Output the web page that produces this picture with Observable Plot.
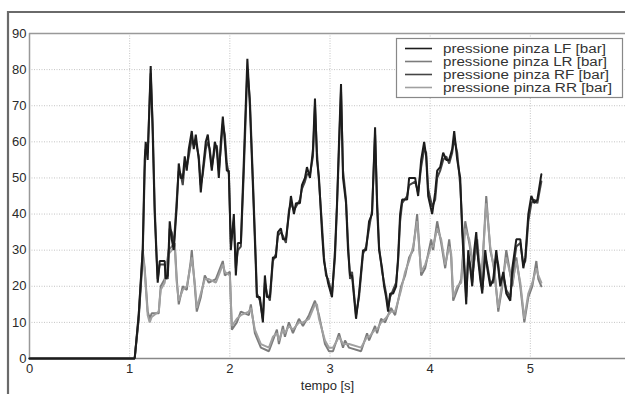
<!DOCTYPE html>
<html><head><meta charset="utf-8">
<script src="https://cdn.jsdelivr.net/npm/d3@7"></script>
<script src="https://cdn.jsdelivr.net/npm/@observablehq/plot@0.6"></script>
<style>html,body{margin:0;padding:0;background:#fff;overflow:hidden}</style>
</head><body><div id="chart"></div>
<script>
const seriesNames = ["pressione pinza LF [bar]", "pressione pinza LR [bar]", "pressione pinza RF [bar]", "pressione pinza RR [bar]"];
const seriesColors = ["#1c1c1c", "#7c7c7c", "#454545", "#a0a0a0"];
const xTicks = [0, 1, 2, 3, 4, 5, 6];
const yTicks = [0, 10, 20, 30, 40, 50, 60, 70, 80, 90];

// front calipers (shared time base)
const tFront = [
  0,1.05,1.09,1.13,1.15,1.16,1.18,1.21,1.23,1.25,
  1.27,1.28,1.30,1.35,1.36,1.38,1.40,1.42,1.44,1.47,
  1.49,1.51,1.53,1.55,1.57,1.59,1.62,1.64,1.66,1.69,
  1.71,1.73,1.76,1.78,1.80,1.82,1.85,1.87,1.89,1.91,
  1.93,1.95,1.97,1.99,2.01,2.04,2.06,2.08,2.11,2.14,
  2.175,2.20,2.23,2.26,2.27,2.30,2.33,2.35,2.37,2.40,
  2.43,2.46,2.48,2.51,2.53,2.56,2.59,2.61,2.64,2.66,
  2.70,2.72,2.75,2.77,2.80,2.83,2.85,2.87,2.89,2.92,
  2.94,2.96,2.98,3.02,3.05,3.07,3.09,3.11,3.13,3.16,
  3.18,3.20,3.22,3.24,3.26,3.29,3.31,3.33,3.36,3.39,
  3.42,3.45,3.47,3.49,3.52,3.54,3.56,3.58,3.60,3.63,
  3.66,3.68,3.70,3.72,3.77,3.79,3.85,3.88,3.91,3.94,
  3.96,3.98,4.02,4.05,4.07,4.10,4.13,4.16,4.19,4.22,
  4.24,4.27,4.30,4.32,4.34,4.36,4.38,4.40,4.42,4.44,
  4.46,4.48,4.50,4.52,4.55,4.57,4.60,4.63,4.66,4.68,
  4.70,4.73,4.76,4.80,4.82,4.86,4.90,4.93,4.95,4.98,
  5.01,5.04,5.07,5.11
];
const pLF = [
  0,0,12,30,55,60,55,81,62,40,
  27,21,27,27,22,23,38,33,30,42,
  54,50,50,56,52,58,63,58,62,55,
  46,52,60,62,57,52,60,58,50,60,
  67,60,52,52,30,40,23,32,32,55,
  83,70,48,25,17,17,10,23,17,17,
  28,28,35,36,33,33,40,45,40,43,
  43,48,50,53,50,58,72,55,50,35,
  27,24,21,17,30,43,60,76,50,43,
  30,23,23,17,11,18,24,30,30,38,
  40,64,42,30,25,20,17,13,18,18,
  20,28,40,44,44,50,50,45,55,60,
  56,45,40,46,52,53,57,55,55,58,
  63,55,50,35,25,15,30,25,20,30,
  35,27,22,18,30,25,20,22,30,25,
  20,24,18,16,25,33,33,25,28,40,
  45,43,44,51
];
const pRF = [
  0,0,11,28,52,58,57,79,65,42,
  28,22,26,26,23,22,36,35,31,44,
  52,51,48,54,53,56,61,59,60,56,
  48,51,58,60,58,53,58,59,52,58,
  65,62,54,51,32,38,25,30,31,52,
  80,72,50,27,18,16,11,21,18,16,
  27,29,34,35,34,32,41,43,41,42,
  44,47,49,51,51,56,70,57,49,37,
  28,23,22,18,28,42,58,74,52,44,
  32,22,24,18,12,17,23,29,31,36,
  41,62,44,31,24,21,18,14,17,19,
  21,27,38,43,45,48,49,46,53,58,
  57,47,42,44,50,52,55,56,54,57,
  61,57,48,37,27,17,28,26,21,28,
  33,28,24,19,28,26,21,21,28,26,
  21,23,19,17,23,31,32,26,27,38,
  43,44,43,49
];

// rear calipers (shared time base)
const tRear = [
  0,1.05,1.09,1.13,1.15,1.18,1.20,1.22,1.29,1.31,
  1.35,1.39,1.45,1.47,1.49,1.53,1.57,1.61,1.62,1.65,
  1.67,1.71,1.75,1.79,1.86,1.93,1.95,2.00,2.02,2.07,
  2.11,2.19,2.21,2.25,2.31,2.39,2.43,2.47,2.49,2.53,
  2.55,2.59,2.63,2.69,2.73,2.79,2.85,2.87,2.89,2.95,
  2.99,3.03,3.09,3.13,3.15,3.19,3.31,3.37,3.39,3.45,
  3.47,3.51,3.55,3.61,3.65,3.71,3.75,3.79,3.83,3.87,
  3.91,3.95,4.01,4.03,4.07,4.11,4.15,4.19,4.21,4.23,
  4.27,4.31,4.35,4.39,4.43,4.47,4.51,4.56,4.60,4.64,
  4.68,4.72,4.76,4.82,4.86,4.90,4.94,4.98,5.02,5.06,
  5.08,5.11
];
const pLR = [
  0,0,12,30,25,13,11,12.5,12.5,20,
  22,30,32,22,15,20,19,27,30,20,
  13,17,23,21,22,27,23,24,8,10,
  13,12,15,7,3,2,5,8,4,9,
  6,10,7,11,9,12,16,14,12,4,
  2,2,7,3,5,3,2,7,5,9,
  7,11,10,14,12,20,23,28,30,40,
  23,25,33,30,38,32,25,33,28,16,
  19,22,38,32,25,33,20,45,30,25,
  13,20,30,20,28,20,10,17,20,27,
  22,20
];
const pRR = [
  0,0,11,29,24,12,10,11.5,13,19,
  21,29,31,21,16,19,20,26,28,21,
  14,18,22,22,21,26,24,23,9,11,
  12,13,14,8,4,3,6,7,5,8,
  7,9,8,10,10,11,15,15,11,5,
  3,3,6,4,4,4,3,6,6,8,
  8,10,11,13,13,19,24,27,31,38,
  24,26,31,31,36,33,26,31,29,17,
  20,21,36,33,26,31,21,43,31,24,
  14,21,28,21,27,21,11,18,21,25,
  23,21
];

function build(name, ts, vs) {
  const n = Math.min(ts.length, vs.length);
  const out = [];
  for (let i = 0; i < n; i++) out.push({s: name, t: ts[i], v: vs[i]});
  return out;
}
const rows = [
  ...build(seriesNames[1], tRear, pLR),
  ...build(seriesNames[3], tRear, pRR),
  ...build(seriesNames[2], tFront, pRF),
  ...build(seriesNames[0], tFront, pLF)
];

const gridStyle = {stroke: "#c4c4c4", strokeOpacity: 1, strokeWidth: 1, strokeDasharray: "1,1.5"};

const plot = Plot.plot({
  width: 625,
  height: 394,
  marginLeft: 29,
  marginTop: 33,
  marginBottom: 36,
  marginRight: 0,
  style: {fontFamily: "'Liberation Sans', Arial, sans-serif", fontSize: "13px", color: "#2a2a2a", background: "#fff", overflow: "hidden"},
  x: {domain: [0, 6], range: [29, 630]},
  y: {domain: [0, 90]},
  color: {domain: seriesNames, range: seriesColors},
  marks: [
    Plot.gridX(xTicks.slice(1), gridStyle),
    Plot.gridY(yTicks.slice(1), gridStyle),
    Plot.ruleY([0], {stroke: "#888", strokeWidth: 1.5}),
    Plot.ruleY([90], {stroke: "#999", strokeWidth: 1.5}),
    Plot.ruleX([0], {stroke: "#999", strokeWidth: 1.5}),
    Plot.line(rows, {x: "t", y: "v", z: "s", stroke: "s", strokeWidth: 2, strokeLinejoin: "miter"}),
    Plot.axisX({ticks: xTicks, tickSize: 0, tickPadding: 5, tickFormat: d => d, label: "tempo [s]", labelAnchor: "center", labelOffset: 31, labelArrow: "none", fontSize: 13}),
    Plot.axisY({ticks: yTicks, tickSize: 0, tickPadding: 3, tickFormat: d => d, label: null, fontSize: 13})
  ]
});
document.getElementById("chart").appendChild(plot);

const svg = d3.select(plot);
// outer figure frame
svg.append("path").attr("d", "M8,394V12H625").attr("fill", "none").attr("stroke", "#6a6a6a").attr("stroke-width", 2.2);

// legend
const lg = svg.append("g");
lg.append("rect").attr("x", 396.5).attr("y", 38.5).attr("width", 226).attr("height", 59)
  .attr("fill", "#fff").attr("stroke", "#888").attr("stroke-width", 1.2);
const ys = [48.5, 61.5, 74.5, 87.5];
const textEnds = [606, 607, 609, 612];
seriesNames.forEach((name, i) => {
  lg.append("line").attr("x1", 405).attr("x2", 432).attr("y1", ys[i]).attr("y2", ys[i])
    .attr("stroke", seriesColors[i]).attr("stroke-width", 1.6);
  lg.append("text").attr("x", 443).attr("y", ys[i]).attr("dy", "0.35em")
    .attr("text-anchor", "start")
    .attr("textLength", textEnds[i] - 443).attr("lengthAdjust", "spacingAndGlyphs")
    .attr("font-family", "'Liberation Sans', Arial, sans-serif").attr("font-size", 12.5)
    .attr("fill", "#333").text(name);
});
</script>
</body></html>
